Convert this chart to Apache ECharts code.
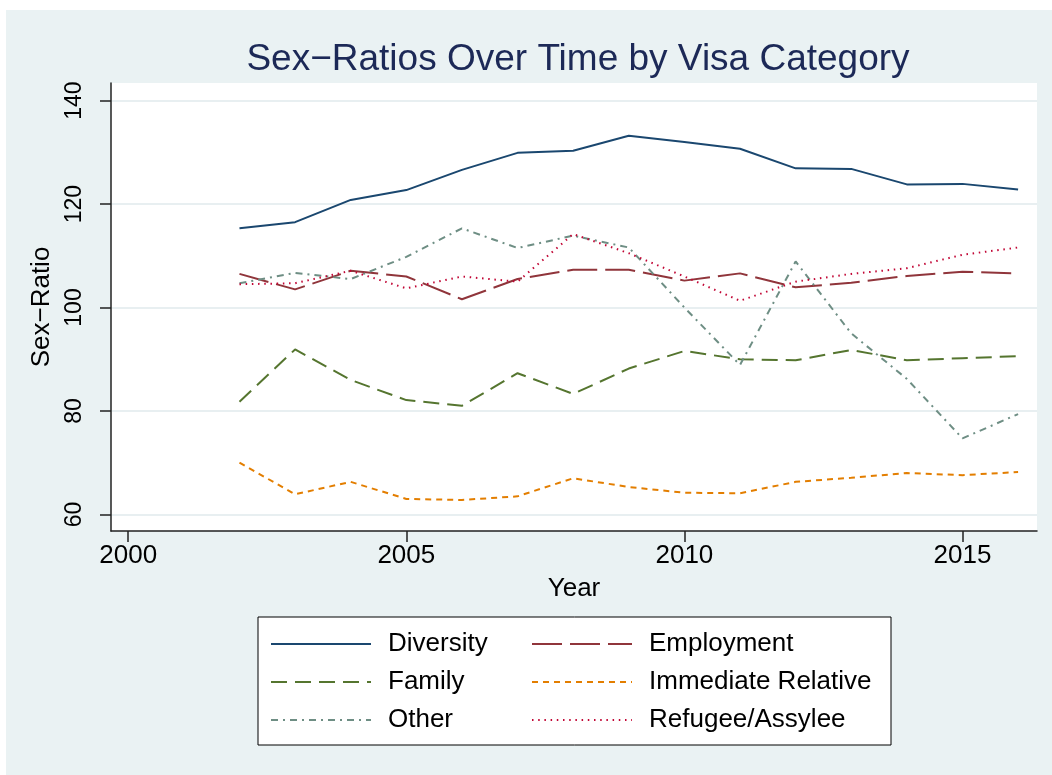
<!DOCTYPE html>
<html>
<head>
<meta charset="utf-8">
<script src="https://cdn.jsdelivr.net/npm/echarts@6/dist/echarts.min.js"></script>
<style>
  html, body { margin: 0; padding: 0; background: #ffffff; }
  #wrap { position: absolute; left: 6px; top: 10px; width: 1046px; height: 765px; background: #eaf2f3; }
  #chart { position: absolute; left: -6px; top: -10px; width: 1052px; height: 775px; }
</style>
</head>
<body>
<div id="wrap"><div id="chart"></div></div>
<script>
const years = [2002, 2003, 2004, 2005, 2006, 2007, 2008, 2009, 2010, 2011, 2012, 2013, 2014, 2015, 2016];
const diversity = [115.3, 116.5, 120.8, 122.7, 126.6, 129.9, 130.3, 133.2, 132.0, 130.7, 126.9, 126.8, 123.8, 123.9, 122.8];
const employment = [106.5, 103.5, 107.1, 106.0, 101.6, 105.5, 107.3, 107.3, 105.2, 106.6, 103.9, 104.8, 106.1, 106.9, 106.6];
const family = [81.8, 91.9, 86.0, 82.1, 81.0, 87.3, 83.3, 88.2, 91.6, 90.0, 89.8, 91.8, 89.8, 90.2, 90.6];
const immediateRelative = [70.0, 63.9, 66.3, 63.0, 62.8, 63.5, 67.0, 65.3, 64.2, 64.1, 66.3, 67.1, 68.0, 67.6, 68.2];
const other = [104.7, 106.7, 105.5, 109.8, 115.3, 111.5, 113.9, 111.6, 100.0, 88.9, 108.9, 95.0, 86.2, 74.7, 79.4];
const refugee = [104.5, 104.7, 107.1, 103.7, 106.0, 105.0, 114.2, 110.5, 106.0, 101.3, 105.0, 106.5, 107.6, 110.2, 111.6];
const xTicks = [2000, 2005, 2010, 2015];
const yTicks = [60, 80, 100, 120, 140];
const seriesNames = ['Diversity', 'Employment', 'Family', 'Immediate Relative', 'Other', 'Refugee/Assylee'];
const seriesValues = [diversity, employment, family, immediateRelative, other, refugee];
const seriesColors = ['#1a476f', '#90353b', '#55752f', '#e37e00', '#6e8e84', '#c10534'];
const seriesDash = ['solid', [30, 8], [16, 8], [6, 5], [7, 5, 2, 5], [1.5, 4.7]];

const chart = echarts.init(document.getElementById('chart'), null, { renderer: 'canvas' });

const series = seriesNames.map((name, i) => ({
  name: name,
  type: 'line',
  symbol: 'none',
  animation: false,
  data: years.map((y, j) => [y, seriesValues[i][j]]),
  lineStyle: { color: seriesColors[i], width: 2, type: seriesDash[i], cap: 'butt' },
  itemStyle: { color: seriesColors[i] }
}));

const legendData = seriesNames.map((name, i) => ({
  name: name,
  textStyle: { width: (i % 2 === 0) ? 133 : 229 }
}));

chart.setOption({
  backgroundColor: 'transparent',
  animation: false,
  textStyle: { fontFamily: 'Liberation Sans, Arial, sans-serif' },
  title: {
    text: 'Sex\u2212Ratios Over Time by Visa Category',
    left: 573,
    top: 36,
    textAlign: 'center',
    textStyle: { color: '#1c2957', fontSize: 37, fontWeight: 'normal', fontFamily: 'Liberation Sans, Arial, sans-serif' }
  },
  grid: {
    left: 111, top: 83, right: 15, bottom: 244,
    show: true, backgroundColor: '#ffffff', borderWidth: 0
  },
  xAxis: {
    type: 'value',
    min: 1999.69, max: 2016.34,
    name: 'Year',
    nameLocation: 'middle',
    nameGap: 45,
    nameTextStyle: { color: '#000', fontSize: 26, fontFamily: 'Liberation Sans, Arial, sans-serif' },
    axisLine: { show: true, onZero: false, lineStyle: { color: '#222', width: 1.5 } },
    axisTick: { show: true, length: 11, lineStyle: { color: '#222', width: 1.5 }, customValues: xTicks },
    axisLabel: { color: '#000', fontSize: 26, margin: 12, customValues: xTicks, formatter: v => String(v) },
    splitLine: { show: false }
  },
  yAxis: {
    type: 'value',
    min: 56.8, max: 143.4,
    name: 'Sex\u2212Ratio',
    nameLocation: 'middle',
    nameGap: 42,
    nameTextStyle: { color: '#000', fontSize: 26, fontFamily: 'Liberation Sans, Arial, sans-serif' },
    axisLine: { show: true, onZero: false, lineStyle: { color: '#222', width: 1.5 } },
    axisTick: { show: true, length: 11, lineStyle: { color: '#222', width: 1.5 }, customValues: yTicks },
    axisLabel: { color: '#000', fontSize: 23, margin: 25, rotate: 90, customValues: yTicks, formatter: v => String(v) },
    splitLine: { show: true, lineStyle: { color: '#e8eff1', width: 2 } }
  },
  legend: {
    data: legendData,
    left: 258,
    top: 617,
    width: 700,
    orient: 'horizontal',
    padding: [13, 13, 11, 12],
    itemGap: 10,
    itemWidth: 100,
    itemHeight: 14,
    selectedMode: false,
    backgroundColor: '#ffffff',
    borderColor: '#000000',
    borderWidth: 1,
    borderRadius: 0,
    itemStyle: { opacity: 0 },
    textStyle: {
      color: '#000', fontSize: 26, lineHeight: 28,
      padding: [0, 0, 0, 12],
      fontFamily: 'Liberation Sans, Arial, sans-serif'
    }
  },
  series: series
});
</script>
</body>
</html>
